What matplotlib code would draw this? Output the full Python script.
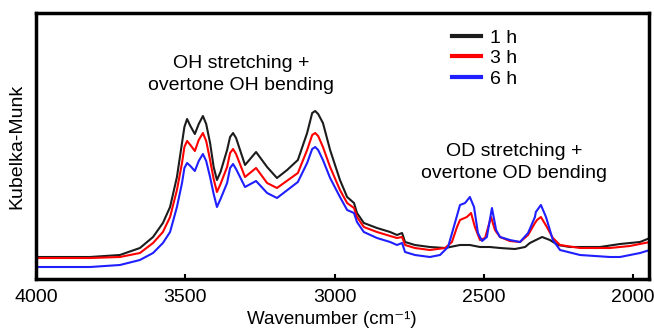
import matplotlib
matplotlib.use("Agg")
import matplotlib.pyplot as plt

plt.rcParams["font.family"] = ["Liberation Sans", "DejaVu Sans"]

# 1 h
wn_1h = [4000, 3920, 3819, 3719, 3652, 3608, 3575, 3551, 3528, 3511, 3503, 3494,
         3483, 3468, 3455, 3441, 3430, 3417, 3405, 3394, 3382, 3360, 3350, 3340,
         3330, 3300, 3263, 3226, 3193, 3159, 3123, 3092, 3075, 3065, 3055, 3039,
         3015, 2982, 2958, 2935, 2925, 2902, 2858, 2814, 2791, 2774, 2764, 2731,
         2681, 2630, 2580, 2547, 2513, 2480, 2446, 2396, 2362, 2346, 2312, 2305,
         2279, 2252, 2212, 2111, 2044, 1977, 1944]
km_1h = [22, 22, 22, 24, 31, 42, 56, 72, 102, 136, 152, 160,
         153, 145, 155, 163, 155, 136, 112, 99, 107, 129, 142, 146,
         141, 114, 127, 112, 101, 109, 119, 146, 166, 168, 165, 156,
         129, 99, 82, 76, 66, 56, 51, 47, 44, 46, 37, 34,
         32, 31, 34, 34, 32, 32, 31, 30, 32, 36, 41, 42,
         39, 34, 32, 32, 35, 37, 41]

# 3 h
wn_3h = [4000, 3920, 3819, 3719, 3652, 3608, 3575, 3551, 3528, 3511, 3503, 3494,
         3483, 3468, 3455, 3441, 3430, 3417, 3405, 3394, 3382, 3360, 3350, 3340,
         3330, 3300, 3263, 3226, 3193, 3123, 3092, 3075, 3065, 3055, 3039, 3015,
         2982, 2958, 2935, 2925, 2902, 2858, 2814, 2791, 2774, 2764, 2731, 2681,
         2630, 2607, 2590, 2580, 2557, 2543, 2530, 2513, 2496, 2476, 2463, 2446,
         2413, 2379, 2352, 2329, 2322, 2309, 2289, 2269, 2245, 2178, 2078, 2011,
         1944]
km_3h = [21, 21, 21, 22, 26, 36, 47, 62, 89, 116, 132, 138,
         134, 128, 139, 146, 138, 119, 100, 87, 95, 112, 126, 130,
         125, 102, 111, 96, 91, 106, 129, 144, 146, 143, 132, 112,
         89, 76, 71, 62, 52, 47, 43, 41, 42, 34, 31, 29,
         31, 37, 52, 59, 62, 66, 52, 39, 41, 62, 49, 42,
         38, 37, 44, 56, 59, 62, 52, 41, 34, 31, 31, 33,
         37]

# 6 h
wn_6h = [4000, 3920, 3819, 3719, 3652, 3608, 3575, 3551, 3528, 3511, 3503, 3494,
         3483, 3468, 3455, 3441, 3430, 3417, 3405, 3394, 3382, 3360, 3350, 3340,
         3330, 3300, 3263, 3226, 3193, 3123, 3092, 3075, 3065, 3055, 3039, 3015,
         2982, 2958, 2935, 2925, 2902, 2858, 2814, 2791, 2774, 2764, 2731, 2681,
         2647, 2620, 2597, 2580, 2563, 2547, 2533, 2520, 2506, 2490, 2473, 2459,
         2446, 2413, 2379, 2352, 2329, 2326, 2309, 2292, 2269, 2245, 2178, 2078,
         2044, 1977, 1944]
km_6h = [12, 12, 12, 14, 19, 26, 36, 47, 72, 96, 111, 116,
         113, 108, 118, 125, 118, 102, 85, 72, 80, 96, 111, 115,
         110, 92, 98, 86, 81, 97, 116, 130, 132, 129, 119, 101,
         82, 69, 66, 57, 47, 41, 37, 34, 36, 27, 24, 22,
         24, 32, 56, 74, 76, 82, 72, 46, 38, 42, 71, 49,
         42, 39, 37, 46, 62, 67, 74, 62, 39, 29, 24, 22,
         22, 26, 29]

series = [
    ("1 h", wn_1h, km_1h, "#1c1c1c"),
    ("3 h", wn_3h, km_3h, "#ff0000"),
    ("6 h", wn_6h, km_6h, "#1f1fff"),
]

fig = plt.figure(figsize=(6.54, 3.30), dpi=100)
ax = fig.add_axes([36 / 654, 51 / 330, 613 / 654, 266 / 330])

for label, wn, km, color in series:
    ax.plot(wn, km, color=color, lw=1.5, label=label, solid_joinstyle="round")

ax.set_xlim(4000, 1947)
ax.set_ylim(0, 266)
ax.set_xticks([4000, 3500, 3000, 2500, 2000])
ax.set_yticks([])
ax.tick_params(axis="x", direction="in", length=3.5, width=1.5, pad=7,
               labelsize=14)
for sp in ax.spines.values():
    sp.set_linewidth(2.5)

ax.set_xlabel("Wavenumber (cm\u207b\u00b9)", fontsize=13.5)
ax.xaxis.set_label_coords(0.483, -0.184)
ax.xaxis.label.set_va("bottom")
ax.set_ylabel("Kubelka-Munk", fontsize=14, labelpad=8)

ax.text(3313, 216, "OH stretching +", fontsize=14, ha="center", va="center")
ax.text(3313, 193, "overtone OH bending", fontsize=14, ha="center", va="center")
ax.text(2399, 127, "OD stretching +", fontsize=14, ha="center", va="center")
ax.text(2399, 106, "overtone OD bending", fontsize=14, ha="center", va="center")

leg = ax.legend(loc="upper left", bbox_to_anchor=(0.679, 0.94), frameon=False,
                fontsize=14, handlelength=1.5, handletextpad=0.45,
                labelspacing=0.15, borderpad=0, borderaxespad=0)
for line in leg.get_lines():
    line.set_linewidth(3)

fig.savefig("out.png", dpi=100)
